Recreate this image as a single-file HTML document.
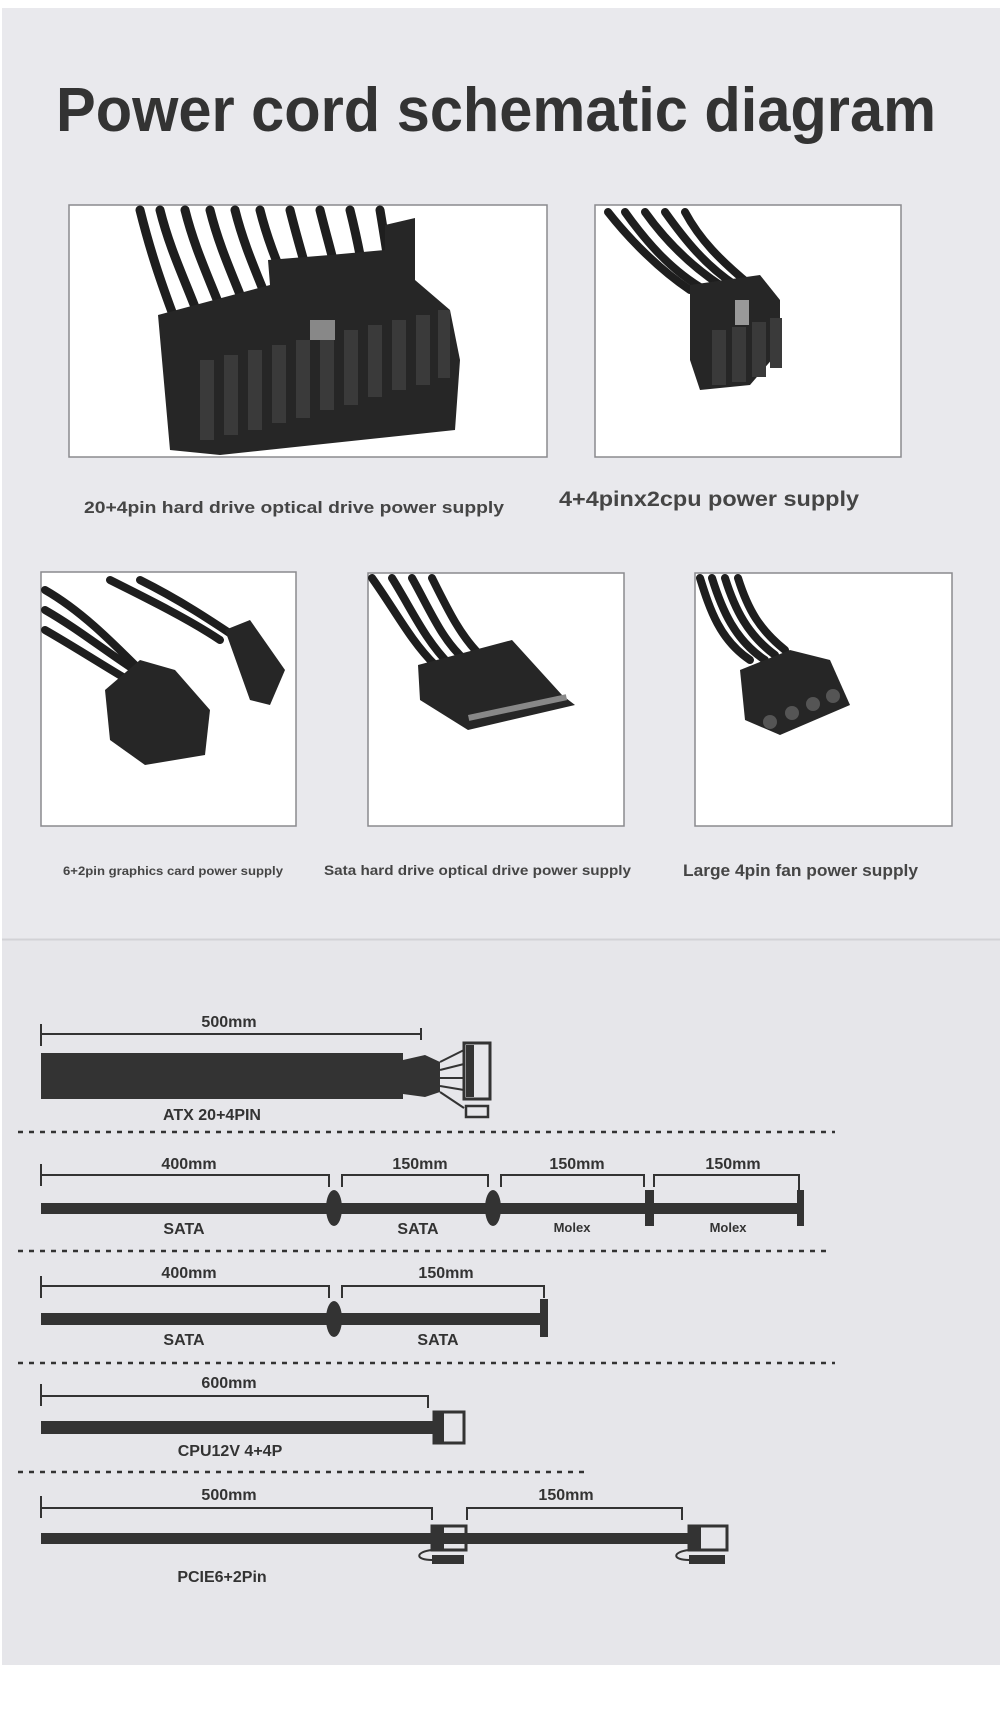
<!DOCTYPE html>
<html><head><meta charset="utf-8"><style>
html,body{margin:0;padding:0;background:#fff}
svg{display:block}
text{font-family:"Liberation Sans",sans-serif;font-weight:bold}
</style></head><body>
<svg width="1000" height="1713" viewBox="0 0 1000 1713" xmlns="http://www.w3.org/2000/svg">
<rect x="0" y="0" width="1000" height="1713" fill="#fff"/>
<rect x="2" y="8" width="998" height="931" fill="#e9e9ed"/>
<rect x="2" y="940" width="998" height="725" fill="#e6e6ea"/>
<line x1="2" y1="939.5" x2="1000" y2="939.5" stroke="#d2d2d6" stroke-width="2"/>

<text x="56" y="131" font-size="62" fill="#333" textLength="880" lengthAdjust="spacingAndGlyphs">Power cord schematic diagram</text>

<!-- photo boxes -->
<g stroke="#8a8a8e" stroke-width="1.5" fill="#fff">
<rect x="69" y="205" width="478" height="252"/>
<rect x="595" y="205" width="306" height="252"/>
<rect x="41" y="572" width="255" height="254"/>
<rect x="368" y="573" width="256" height="253"/>
<rect x="695" y="573" width="257" height="253"/>
</g>

<!-- box1: 24pin -->
<g stroke="#1e1e1e" stroke-width="9" fill="none" stroke-linecap="round">
<path d="M140 210 C150 250 160 280 175 320"/><path d="M160 210 C170 250 185 280 200 320"/>
<path d="M185 210 C195 250 210 280 225 320"/><path d="M210 210 C220 250 235 280 250 320"/>
<path d="M235 210 C245 250 260 280 275 320"/><path d="M260 210 C270 250 285 280 300 320"/>
<path d="M290 210 C300 250 310 280 320 320"/><path d="M320 210 C330 250 340 280 345 320"/>
<path d="M350 210 C360 250 365 280 370 320"/><path d="M380 210 C385 240 390 270 395 310"/>
</g>
<path d="M158 315 L270 285 L268 260 L330 255 L385 250 L385 225 L415 218 L415 280 L450 310 L460 360 L455 430 L220 455 L170 450 Z" fill="#262626"/>
<g fill="#3a3a3a">
<rect x="200" y="360" width="14" height="80"/><rect x="224" y="355" width="14" height="80"/>
<rect x="248" y="350" width="14" height="80"/><rect x="272" y="345" width="14" height="78"/>
<rect x="296" y="340" width="14" height="78"/><rect x="320" y="335" width="14" height="75"/>
<rect x="344" y="330" width="14" height="75"/><rect x="368" y="325" width="14" height="72"/>
<rect x="392" y="320" width="14" height="70"/><rect x="416" y="315" width="14" height="70"/>
<rect x="438" y="310" width="12" height="68"/>
</g>
<rect x="310" y="320" width="25" height="20" fill="#888"/>

<!-- box2: cpu -->
<g stroke="#1e1e1e" stroke-width="8" fill="none" stroke-linecap="round">
<path d="M608 212 C630 240 660 270 690 290"/><path d="M625 212 C645 240 670 270 705 290"/>
<path d="M645 212 C665 240 690 265 720 285"/><path d="M665 212 C685 240 705 265 735 285"/>
<path d="M685 212 C700 240 720 260 750 285"/>
</g>
<path d="M690 285 L760 275 L780 300 L780 350 L750 385 L700 390 L690 360 Z" fill="#262626"/>
<g fill="#3a3a3a"><rect x="712" y="330" width="14" height="55"/><rect x="732" y="327" width="14" height="55"/><rect x="752" y="322" width="14" height="55"/><rect x="770" y="318" width="12" height="50"/></g>
<rect x="735" y="300" width="14" height="25" fill="#999"/>

<!-- box3: 6+2 -->
<g stroke="#1e1e1e" stroke-width="8" fill="none" stroke-linecap="round">
<path d="M45 590 C80 610 110 640 140 670"/><path d="M45 610 C80 630 110 655 150 680"/>
<path d="M45 630 C80 650 110 670 145 690"/><path d="M110 580 C150 600 190 620 220 640"/>
<path d="M140 580 C180 600 210 620 240 640"/>
</g>
<path d="M105 690 L140 660 L175 670 L210 710 L205 755 L145 765 L110 740 Z" fill="#262626"/>
<path d="M225 630 L250 620 L285 670 L270 705 L250 700 Z" fill="#262626"/>

<!-- box4: sata -->
<g stroke="#1e1e1e" stroke-width="8" fill="none" stroke-linecap="round">
<path d="M372 578 C395 610 410 640 435 665"/><path d="M392 578 C412 610 425 640 450 665"/>
<path d="M412 578 C430 610 442 640 465 660"/><path d="M432 578 C448 610 460 635 480 655"/>
</g>
<path d="M418 665 L512 640 L562 695 L575 705 L468 730 L420 700 Z" fill="#262626"/>
<rect x="468" y="715" width="100" height="6" fill="#888" transform="rotate(-12 468 715)"/>

<!-- box5: molex -->
<g stroke="#1e1e1e" stroke-width="8" fill="none" stroke-linecap="round">
<path d="M700 578 C710 610 720 640 750 660"/><path d="M712 578 C722 610 735 640 765 660"/>
<path d="M725 578 C735 610 748 635 775 655"/><path d="M738 578 C748 610 760 630 785 650"/>
</g>
<path d="M740 670 L790 650 L830 660 L850 705 L780 735 L745 720 Z" fill="#262626"/>
<g fill="#555"><circle cx="770" cy="722" r="7"/><circle cx="792" cy="713" r="7"/><circle cx="813" cy="704" r="7"/><circle cx="833" cy="696" r="7"/></g>

<!-- captions -->
<g fill="#454545">
<text x="84" y="513" font-size="17" textLength="420" lengthAdjust="spacingAndGlyphs">20+4pin hard drive optical drive power supply</text>
<text x="559" y="506" font-size="21" textLength="300" lengthAdjust="spacingAndGlyphs">4+4pinx2cpu power supply</text>
<text x="63" y="875" font-size="12" textLength="220" lengthAdjust="spacingAndGlyphs">6+2pin graphics card power supply</text>
<text x="324" y="875" font-size="14" textLength="307" lengthAdjust="spacingAndGlyphs">Sata hard drive optical drive power supply</text>
<text x="683" y="876" font-size="17" textLength="235" lengthAdjust="spacingAndGlyphs">Large 4pin fan power supply</text>
</g>

<!-- diagrams -->
<g fill="#333" font-size="16" text-anchor="middle">
<!-- ATX -->
<text x="229" y="1027">500mm</text>
<path d="M41 1024 V1046 M41 1034 H421 M421 1028 V1040" stroke="#333" stroke-width="2" fill="none"/>
<rect x="41" y="1053" width="362" height="46" fill="#333"/>
<path d="M403 1060 L425 1055 L440 1062 L440 1092 L425 1097 L403 1094 Z" fill="#333"/>
<g stroke="#333" stroke-width="2"><line x1="440" y1="1062" x2="464" y2="1050"/><line x1="440" y1="1070" x2="464" y2="1064"/><line x1="440" y1="1078" x2="464" y2="1078"/><line x1="440" y1="1086" x2="464" y2="1090"/><line x1="440" y1="1092" x2="464" y2="1108"/></g>
<rect x="464" y="1043" width="26" height="56" fill="none" stroke="#333" stroke-width="3"/>
<rect x="466" y="1045" width="8" height="52" fill="#333"/>
<rect x="466" y="1106" width="22" height="11" fill="none" stroke="#333" stroke-width="2.5"/>
<text x="212" y="1120">ATX 20+4PIN</text>
<line x1="18" y1="1132" x2="835" y2="1132" stroke="#333" stroke-width="2.5" stroke-dasharray="5,6"/>

<!-- row 2 -->
<text x="189" y="1169">400mm</text><text x="420" y="1169">150mm</text><text x="577" y="1169">150mm</text><text x="733" y="1169">150mm</text>
<path d="M41 1164 V1186 M41 1175 H329 V1187 M342 1187 V1175 H488 V1187 M501 1187 V1175 H644 V1187 M654 1187 V1175 H799 V1190" stroke="#333" stroke-width="2" fill="none"/>
<rect x="41" y="1203" width="760" height="11" fill="#333"/>
<ellipse cx="334" cy="1208" rx="8" ry="18" fill="#333"/>
<ellipse cx="493" cy="1208" rx="8" ry="18" fill="#333"/>
<rect x="645" y="1190" width="9" height="36" fill="#333"/>
<rect x="797" y="1190" width="7" height="36" fill="#333"/>
<text x="184" y="1234">SATA</text><text x="418" y="1234">SATA</text>
<text x="572" y="1232" font-size="13">Molex</text><text x="728" y="1232" font-size="13">Molex</text>
<line x1="18" y1="1251" x2="830" y2="1251" stroke="#333" stroke-width="2.5" stroke-dasharray="5,6"/>

<!-- row 3 -->
<text x="189" y="1278">400mm</text><text x="446" y="1278">150mm</text>
<path d="M41 1276 V1298 M41 1286 H329 V1298 M342 1298 V1286 H544 V1298" stroke="#333" stroke-width="2" fill="none"/>
<rect x="41" y="1313" width="500" height="12" fill="#333"/>
<ellipse cx="334" cy="1319" rx="8" ry="18" fill="#333"/>
<rect x="540" y="1299" width="8" height="38" fill="#333"/>
<text x="184" y="1345">SATA</text><text x="438" y="1345">SATA</text>
<line x1="18" y1="1363" x2="835" y2="1363" stroke="#333" stroke-width="2.5" stroke-dasharray="5,6"/>

<!-- row 4 -->
<text x="229" y="1388">600mm</text>
<path d="M41 1384 V1406 M41 1396 H428 V1408" stroke="#333" stroke-width="2" fill="none"/>
<rect x="41" y="1421" width="395" height="13" fill="#333"/>
<rect x="434" y="1412" width="30" height="31" fill="none" stroke="#333" stroke-width="3"/>
<rect x="434" y="1412" width="10" height="31" fill="#333"/>
<text x="230" y="1456">CPU12V 4+4P</text>
<line x1="18" y1="1472" x2="586" y2="1472" stroke="#333" stroke-width="2.5" stroke-dasharray="5,6"/>

<!-- row 5 -->
<text x="229" y="1500">500mm</text><text x="566" y="1500">150mm</text>
<path d="M41 1496 V1518 M41 1508 H432 V1520 M467 1520 V1508 H682 V1520" stroke="#333" stroke-width="2" fill="none"/>
<rect x="41" y="1533" width="650" height="11" fill="#333"/>
<rect x="432" y="1526" width="34" height="24" fill="none" stroke="#333" stroke-width="3"/>
<rect x="432" y="1526" width="12" height="24" fill="#333"/>
<rect x="689" y="1526" width="38" height="24" fill="none" stroke="#333" stroke-width="3"/>
<rect x="689" y="1526" width="12" height="24" fill="#333"/>
<path d="M432 1550 C415 1552 415 1560 432 1560" stroke="#333" stroke-width="2" fill="none"/>
<rect x="432" y="1555" width="32" height="9" fill="#333"/>
<path d="M689 1550 C672 1552 672 1560 689 1560" stroke="#333" stroke-width="2" fill="none"/>
<rect x="689" y="1555" width="36" height="9" fill="#333"/>
<text x="222" y="1582">PCIE6+2Pin</text>
</g>
</svg>
</body></html>
